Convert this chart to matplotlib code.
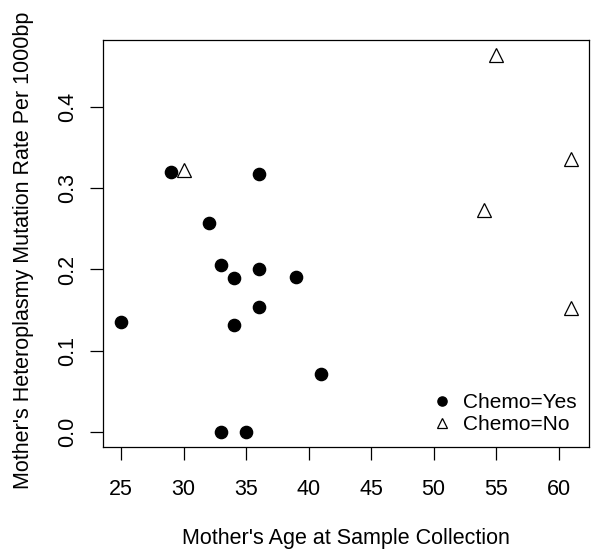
import matplotlib.pyplot as plt

plt.rcParams['font.family'] = ['Liberation Sans', 'DejaVu Sans']

# Chemo = Yes
age_yes = [25, 29, 36, 32, 33, 34, 36, 39, 36, 34, 41, 33, 35]
rate_yes = [0.135, 0.320, 0.318, 0.257, 0.206, 0.190, 0.200, 0.191, 0.154, 0.132, 0.071, 0.0, 0.0]

# Chemo = No
age_no = [30, 55, 61, 54, 61]
rate_no = [0.323, 0.464, 0.336, 0.273, 0.152]

fig = plt.figure(figsize=(6, 5.58), dpi=100)
ax = fig.add_axes([0.172, 0.1995, 0.8097, 0.7288])

ax.plot(age_yes, rate_yes, 'o', color='black', markersize=8.8, label='Chemo=Yes')
ax.plot(age_no, rate_no, '^', markerfacecolor='white', markeredgecolor='black',
        markeredgewidth=0.9, markersize=10.5, label='Chemo=No')

# R-style 4% padding
ax.set_xlim(23.56, 62.44)
ax.set_ylim(-0.0186, 0.4830)
ax.set_xticks([25, 30, 35, 40, 45, 50, 55, 60])
ax.set_yticks([0.0, 0.1, 0.2, 0.3, 0.4])
ax.set_yticklabels(['0.0', '0.1', '0.2', '0.3', '0.4'], rotation=90, va='center')
ax.tick_params(axis='both', length=9.4, width=0.9, labelsize=15.5)
ax.tick_params(axis='x', pad=14)
ax.tick_params(axis='y', pad=9)
for s in ax.spines.values():
    s.set_linewidth(0.9)

ax.set_xlabel("Mother's Age at Sample Collection", fontsize=15.5)
ax.set_ylabel("Mother's Heteroplasmy Mutation Rate Per 1000bp", fontsize=15.5)
ax.xaxis.set_label_coords(0.5, -0.2)
ax.yaxis.set_label_coords(-0.143, 0.484)

ax.legend(loc='lower right', frameon=False, fontsize=15, handletextpad=0.5,
          borderaxespad=0, borderpad=0, labelspacing=0.15, handlelength=1.0,
          markerscale=0.75, bbox_to_anchor=(0.974, 0.030))

fig.savefig('out.png', dpi=100)
